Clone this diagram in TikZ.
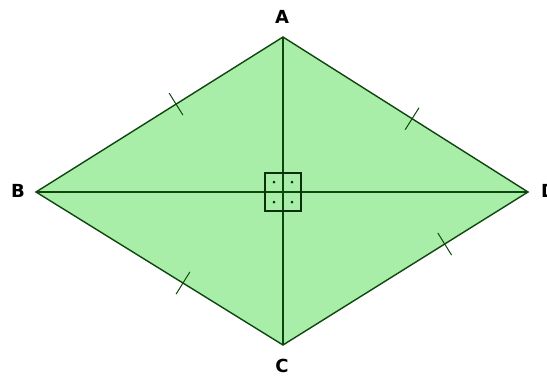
\documentclass[tikz,border=0pt]{standalone}
\usepackage{fontspec}
\setmainfont{DejaVu Sans}
\usetikzlibrary{calc}
\definecolor{rfill}{RGB}{168,238,168}
\definecolor{rline}{RGB}{15,70,15}
\begin{document}
\begin{tikzpicture}[x=1pt,y=-1pt,
  edge/.style={draw=rline,line width=1.4pt},
  tickmark/.style={draw=rline,line width=1pt},
  lbl/.style={font=\fontsize{18}{18}\selectfont\bfseries,text=black,inner sep=0pt},
  rightbox/.style={draw=rline!70!black,line width=1.9pt},
  dotmark/.style={fill=rline!70!black}]
\useasboundingbox (0,0) rectangle (547,376);
\fill[white] (0,0) rectangle (547,376);
\coordinate (A) at (283,37);
\coordinate (B) at (36,192);
\coordinate (C) at (283,345);
\coordinate (D) at (528,192);
\coordinate (O) at (283,192);
\fill[rfill] (A) -- (B) -- (C) -- (D) -- cycle;
\draw[edge] (A) -- (C);
\draw[edge] (B) -- (D);
\draw[edge,line join=miter] (A) -- (B) -- (C) -- (D) -- cycle;
\draw[rightbox] ($(O)+(-18,-19)$) rectangle ($(O)+(18,19)$);
\foreach \dx in {-9,9} \foreach \dy in {-10,10}
  \fill[dotmark] ($(O)+(\dx,\dy)$) circle (1.5);
\draw[tickmark] ($(A)!0.433!(B)!13pt!90:(B)$) -- ($(A)!0.433!(B)!13pt!-90:(B)$);
\draw[tickmark] ($(A)!0.527!(D)!13pt!90:(D)$) -- ($(A)!0.527!(D)!13pt!-90:(D)$);
\draw[tickmark] ($(B)!0.595!(C)!13pt!90:(C)$) -- ($(B)!0.595!(C)!13pt!-90:(C)$);
\draw[tickmark] ($(C)!0.66!(D)!13pt!90:(D)$) -- ($(C)!0.66!(D)!13pt!-90:(D)$);
\node[lbl] (lA) at (282,17) {A};
\node[lbl] (lB) at (18,191) {B};
\node[lbl] (lC) at (282,366) {C};
\node[lbl,anchor=west] (lD) at (541,191) {D};
\end{tikzpicture}
\end{document}
